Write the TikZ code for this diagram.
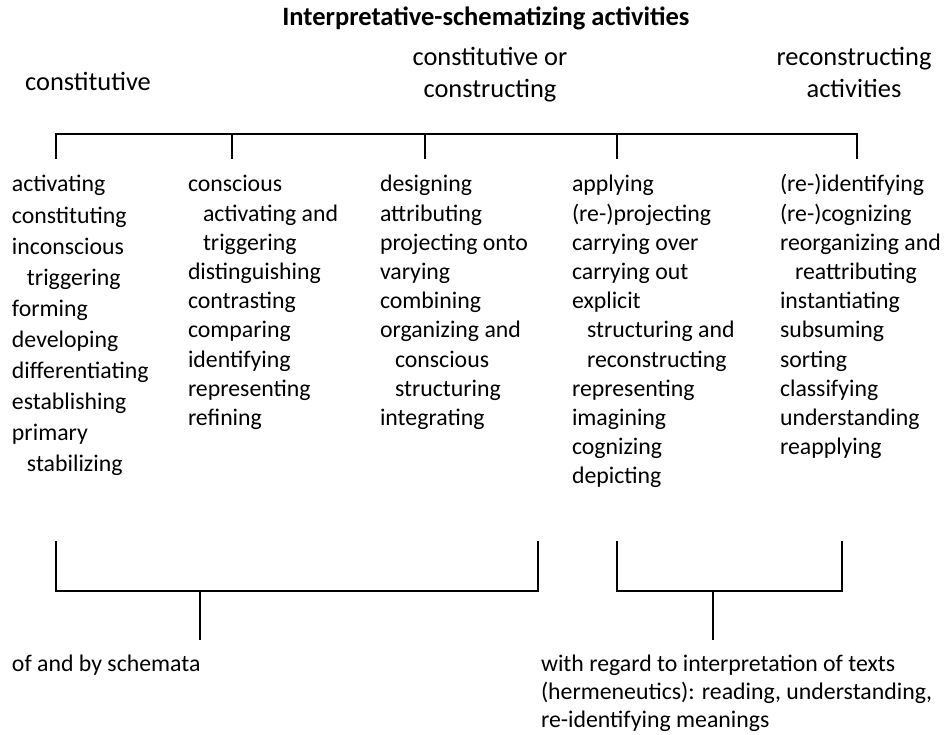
\documentclass[tikz,border=0pt]{standalone}
\usepackage{fontspec}
\setmainfont{Carlito}
\begin{document}
\begin{tikzpicture}[x=1pt,y=-1pt,
  every node/.style={inner sep=0pt, outer sep=0pt},
  coltext/.style={anchor=base west, font=\fontsize{23.8}{29.2}\selectfont},
  colwide/.style={anchor=base west, font=\fontsize{23.8}{31.1}\selectfont},
  bottext/.style={anchor=base west, font=\fontsize{23.8}{28}\selectfont},
  headtext/.style={anchor=base, font=\fontsize{26.4}{32}\selectfont},
  titletext/.style={anchor=base, font=\fontsize{26.5}{32}\selectfont\bfseries},
  bar/.style={line width=1.6pt, line cap=rect}]
\useasboundingbox (0,0) rectangle (944,735);
\fill[white] (0,0) rectangle (944,735);

% title and headers
\node[titletext] (title) at (486,26) {Interpretative-schematizing activities};
\node[headtext] (hA) at (88,91) {constitutive};
\node[headtext] (hB) at (490,66) {\begin{tabular}[t]{@{}c@{}}constitutive or\\constructing\end{tabular}};
\node[headtext] (hC) at (854,66) {\begin{tabular}[t]{@{}c@{}}reconstructing\\activities\end{tabular}};

% top bracket
\coordinate (tL) at (56,134);
\coordinate (tR) at (857,134);
\coordinate (k1) at (56,134);  \coordinate (e1) at (56,158);
\coordinate (k2) at (232,134); \coordinate (e2) at (232,158);
\coordinate (k3) at (425,134); \coordinate (e3) at (425,158);
\coordinate (k4) at (617,134); \coordinate (e4) at (617,158);
\coordinate (k5) at (857,134); \coordinate (e5) at (857,158);
\draw[bar] (tL) -- (tR);
\foreach \i in {1,...,5} \draw[bar] (k\i) -- (e\i);

% columns
\node[colwide] (c1) at (12,192) {\begin{tabular}[t]{@{}l@{}}
activating\\constituting\\inconscious\\\hspace*{15pt}triggering\\forming\\developing\\differentiating\\establishing\\primary\\\hspace*{15pt}stabilizing\end{tabular}};
\node[coltext] (c2) at (188,192) {\begin{tabular}[t]{@{}l@{}}
conscious\\\hspace*{15pt}activating and\\\hspace*{15pt}triggering\\distinguishing\\contrasting\\comparing\\identifying\\representing\\refining\end{tabular}};
\node[coltext] (c3) at (380,192) {\begin{tabular}[t]{@{}l@{}}
designing\\attributing\\projecting onto\\varying\\combining\\organizing and\\\hspace*{15pt}conscious\\\hspace*{15pt}structuring\\integrating\end{tabular}};
\node[coltext] (c4) at (572,192) {\begin{tabular}[t]{@{}l@{}}
applying\\(re-)projecting\\carrying over\\carrying out\\explicit\\\hspace*{15pt}structuring and\\\hspace*{15pt}reconstructing\\representing\\imagining\\cognizing\\depicting\end{tabular}};
\node[coltext] (c5) at (780,192) {\begin{tabular}[t]{@{}l@{}}
(re-)identifying\\(re-)cognizing\\reorganizing and\\\hspace*{15pt}reattributing\\instantiating\\subsuming\\sorting\\classifying\\understanding\\reapplying\end{tabular}};

% bottom brackets
\coordinate (bL1) at (56,542);  \coordinate (bL2) at (56,591);
\coordinate (bL3) at (538,591); \coordinate (bL4) at (538,542);
\coordinate (sL1) at (200,591); \coordinate (sL2) at (200,639);
\draw[bar] (bL1) -- (bL2) -- (bL3) -- (bL4);
\draw[bar] (sL1) -- (sL2);
\coordinate (bR1) at (617,542); \coordinate (bR2) at (617,591);
\coordinate (bR3) at (842,591); \coordinate (bR4) at (842,542);
\coordinate (sR1) at (713,591); \coordinate (sR2) at (713,639);
\draw[bar] (bR1) -- (bR2) -- (bR3) -- (bR4);
\draw[bar] (sR1) -- (sR2);

% bottom texts
\node[bottext] (oL) at (12,671) {of and by schemata};
\node[bottext] (oR) at (541,671) {\begin{tabular}[t]{@{}l@{}}with regard to interpretation of texts\\(hermeneutics): reading, understanding,\\re-identifying meanings\end{tabular}};
\end{tikzpicture}
\end{document}
